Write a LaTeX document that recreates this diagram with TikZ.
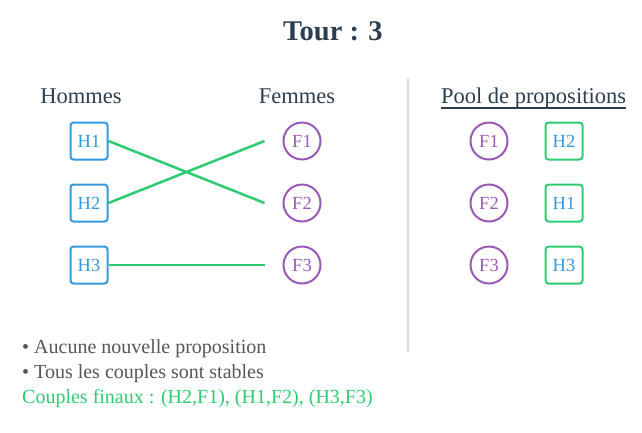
\documentclass[tikz,border=0pt]{standalone}
\usepackage{fontspec}
\setmainfont{Liberation Serif}
\usetikzlibrary{positioning}
\definecolor{titre}{HTML}{2C3E50}
\definecolor{bleu}{HTML}{3498DB}
\definecolor{violet}{HTML}{9B59B6}
\definecolor{vert}{HTML}{2ECC71}
\definecolor{gris}{HTML}{555555}
\definecolor{trait}{HTML}{DDDDDD}
\begin{document}
\begin{tikzpicture}[x=1pt,y=-1pt,
  homme/.style={draw=bleu, text=bleu, line width=2pt, rounded corners=3pt, minimum size=37pt, inner sep=0pt, font=\fontsize{18.5}{20}\selectfont},
  femme/.style={draw=violet, text=violet, line width=2pt, circle, minimum size=37pt, inner sep=0pt, font=\fontsize{18.5}{20}\selectfont},
  propo/.style={homme, draw=vert},
  entete/.style={anchor=base, text=titre, inner sep=0pt, font=\fontsize{22.5}{25}\selectfont},
  ligne/.style={anchor=base west, inner sep=0pt, font=\fontsize{20}{22}\selectfont},
  couple/.style={draw=vert, line width=2.5pt}]
\useasboundingbox (0,0) rectangle (642,432);
\node[anchor=base, text=titre, inner sep=0pt, font=\fontsize{28.5}{30}\bfseries] (titre) at (333,40.7) {Tour : 3};
% colonnes
\node[entete] (hommes) at (81,103.3) {Hommes};
\node[entete] (femmes) at (297,103.3) {Femmes};
\node[homme] (H1) at (89,141) {H1};
\node[homme] (H2) at (89,203) {H2};
\node[homme] (H3) at (89,265) {H3};
\node[femme] (F1) at (302,141) {F1};
\node[femme] (F2) at (302,203) {F2};
\node[femme] (F3) at (302,265) {F3};
\coordinate (f1) at ([xshift=-18pt]F1.west);
\coordinate (f2) at ([xshift=-18pt]F2.west);
\coordinate (f3) at ([xshift=-18pt]F3.west);
\draw[couple] (H1.east) -- (f2);
\draw[couple] (H2.east) -- (f1);
\draw[couple] (H3.east) -- (f3);
% separation
\coordinate (haut) at (408,78);
\coordinate (bas) at (408,352);
\draw[trait, line width=2.5pt] (haut) -- (bas);
% pool
\node[entete] (pool) at (533.5,103.3) {Pool de propositions};
\draw[titre, line width=1.6pt] ([yshift=-4.5pt]pool.base west) -- ([yshift=-4.5pt]pool.base east);
\node[femme] (P1) at (489,141) {F1};
\node[femme] (P2) at (489,203) {F2};
\node[femme] (P3) at (489,265) {F3};
\node[propo] (Q1) at (564,141) {H2};
\node[propo] (Q2) at (564,203) {H1};
\node[propo] (Q3) at (564,265) {H3};
% resume
\node[ligne, text=gris] (l1) at (22,353.5) {• Aucune nouvelle proposition};
\node[ligne, text=gris] (l2) at (22,378.7) {• Tous les couples sont stables};
\node[ligne, text=vert] (l3) at (22,403.5) {Couples finaux : (H2,F1), (H1,F2), (H3,F3)};
\end{tikzpicture}
\end{document}
